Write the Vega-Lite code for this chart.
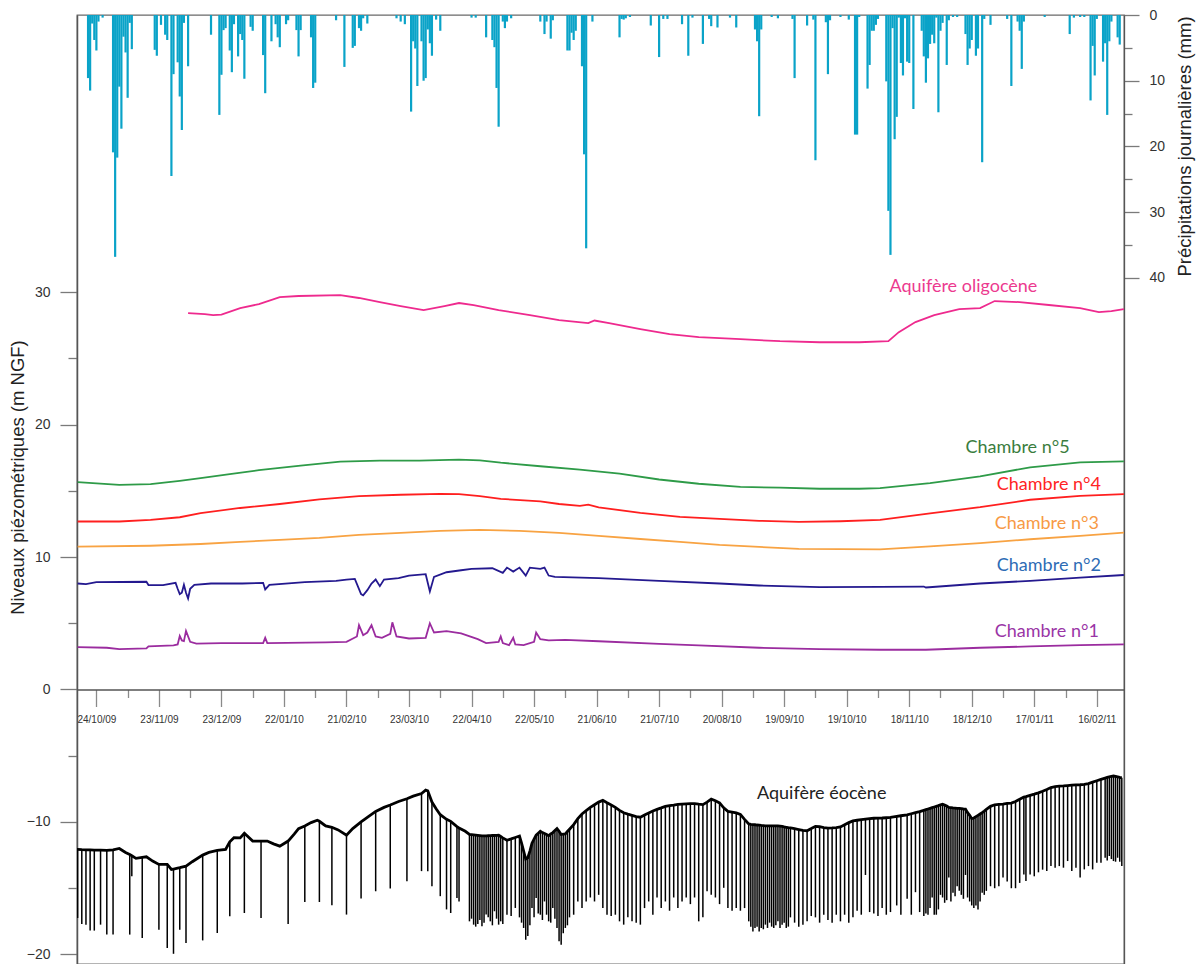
{
"$schema": "https://vega.github.io/schema/vega-lite/v6.json",
"width": 1047,
"height": 949,
"autosize": {"type": "none"},
"padding": {"left": 77, "top": 15, "right": 75, "bottom": 0},
"background": "white",
"config": {"view": {"stroke": "#6a6a6a", "strokeWidth": 1.3}, "axis": {"grid": false}},
"datasets": {
"pluie": [
{"date":"2009-10-20","mm":9.6},{"date":"2009-10-21","mm":11.5},{"date":"2009-10-22","mm":1.3},{"date":"2009-10-23","mm":3.8},{"date":"2009-10-24","mm":5.4},{"date":"2009-10-25","mm":1.0},{"date":"2009-10-27","mm":0.4},
{"date":"2009-11-01","mm":20.9},{"date":"2009-11-02","mm":36.8},{"date":"2009-11-03","mm":21.7},{"date":"2009-11-04","mm":10.9},{"date":"2009-11-05","mm":17.3},{"date":"2009-11-06","mm":3.3},{"date":"2009-11-07","mm":5.7},{"date":"2009-11-08","mm":12.6},{"date":"2009-11-09","mm":1.2},{"date":"2009-11-10","mm":5.2},
{"date":"2009-11-21","mm":5.3},{"date":"2009-11-22","mm":6.2},{"date":"2009-11-24","mm":1.5},{"date":"2009-11-26","mm":3.0},{"date":"2009-11-27","mm":3.8},{"date":"2009-11-29","mm":24.5},{"date":"2009-11-30","mm":9.0},
{"date":"2009-12-02","mm":7.2},{"date":"2009-12-03","mm":12.4},{"date":"2009-12-04","mm":17.5},{"date":"2009-12-05","mm":1.2},{"date":"2009-12-07","mm":7.8},{"date":"2009-12-18","mm":3.0},{"date":"2009-12-22","mm":15.2},{"date":"2009-12-23","mm":9.1},{"date":"2009-12-24","mm":2.3},{"date":"2009-12-25","mm":2.0},{"date":"2009-12-27","mm":5.4},{"date":"2009-12-28","mm":8.7},{"date":"2009-12-29","mm":1.4},{"date":"2009-12-31","mm":6.3},
{"date":"2010-01-01","mm":2.9},{"date":"2010-01-02","mm":3.8},{"date":"2010-01-03","mm":9.7},{"date":"2010-01-06","mm":1.8},{"date":"2010-01-07","mm":2.4},{"date":"2010-01-12","mm":6.1},{"date":"2010-01-13","mm":11.9},{"date":"2010-01-16","mm":4.0},{"date":"2010-01-18","mm":1.4},{"date":"2010-01-19","mm":3.4},{"date":"2010-01-20","mm":4.9},{"date":"2010-01-23","mm":1.4},{"date":"2010-01-24","mm":0.8},{"date":"2010-01-28","mm":2.3},{"date":"2010-01-29","mm":6.3},{"date":"2010-01-30","mm":2.3},
{"date":"2010-02-04","mm":3.4},{"date":"2010-02-05","mm":11.1},{"date":"2010-02-06","mm":10.3},{"date":"2010-02-16","mm":0.8},{"date":"2010-02-20","mm":7.9},{"date":"2010-02-24","mm":5.0},{"date":"2010-02-25","mm":4.7},{"date":"2010-02-27","mm":2.0},{"date":"2010-02-28","mm":2.4},
{"date":"2010-03-01","mm":0.5},{"date":"2010-03-03","mm":1.3},{"date":"2010-03-17","mm":0.5},{"date":"2010-03-19","mm":1.0},{"date":"2010-03-21","mm":1.4},{"date":"2010-03-24","mm":14.7},{"date":"2010-03-25","mm":4.0},{"date":"2010-03-26","mm":5.1},{"date":"2010-03-27","mm":10.8},{"date":"2010-03-29","mm":4.0},{"date":"2010-03-30","mm":10.0},{"date":"2010-03-31","mm":9.6},
{"date":"2010-04-01","mm":2.2},{"date":"2010-04-02","mm":4.3},{"date":"2010-04-03","mm":6.2},{"date":"2010-04-05","mm":0.7},{"date":"2010-04-07","mm":2.4},{"date":"2010-04-22","mm":0.4},{"date":"2010-04-24","mm":0.4},{"date":"2010-04-29","mm":3.4},
{"date":"2010-05-02","mm":3.8},{"date":"2010-05-03","mm":4.9},{"date":"2010-05-04","mm":11.1},{"date":"2010-05-05","mm":17.0},{"date":"2010-05-07","mm":1.0},{"date":"2010-05-08","mm":2.0},{"date":"2010-05-09","mm":1.0},{"date":"2010-05-11","mm":0.5},{"date":"2010-05-25","mm":1.0},{"date":"2010-05-27","mm":2.9},{"date":"2010-05-28","mm":1.0},{"date":"2010-05-30","mm":3.6},{"date":"2010-05-31","mm":0.8},
{"date":"2010-06-07","mm":5.4},{"date":"2010-06-08","mm":5.4},{"date":"2010-06-09","mm":2.7},{"date":"2010-06-10","mm":3.8},{"date":"2010-06-11","mm":2.4},{"date":"2010-06-14","mm":7.8},{"date":"2010-06-15","mm":21.2},{"date":"2010-06-16","mm":35.5},{"date":"2010-06-19","mm":1.0},
{"date":"2010-07-02","mm":3.4},{"date":"2010-07-03","mm":0.6},{"date":"2010-07-04","mm":0.7},{"date":"2010-07-05","mm":0.5},{"date":"2010-07-07","mm":0.3},{"date":"2010-07-17","mm":1.6},{"date":"2010-07-21","mm":6.4},{"date":"2010-07-23","mm":0.6},{"date":"2010-07-25","mm":0.6},
{"date":"2010-08-01","mm":1.4},{"date":"2010-08-04","mm":6.2},{"date":"2010-08-06","mm":0.4},{"date":"2010-08-11","mm":4.4},{"date":"2010-08-14","mm":0.6},{"date":"2010-08-15","mm":1.7},{"date":"2010-08-18","mm":1.9},{"date":"2010-08-24","mm":0.4},{"date":"2010-08-27","mm":1.9},
{"date":"2010-09-05","mm":2.2},{"date":"2010-09-06","mm":4.0},{"date":"2010-09-07","mm":15.4},{"date":"2010-09-08","mm":2.2},{"date":"2010-09-13","mm":0.3},{"date":"2010-09-16","mm":0.5},{"date":"2010-09-23","mm":0.6},{"date":"2010-09-24","mm":9.6},{"date":"2010-09-30","mm":1.6},
{"date":"2010-10-03","mm":0.7},{"date":"2010-10-04","mm":22.1},{"date":"2010-10-09","mm":1.1},{"date":"2010-10-10","mm":9.0},{"date":"2010-10-11","mm":0.8},{"date":"2010-10-16","mm":0.3},{"date":"2010-10-20","mm":0.7},{"date":"2010-10-23","mm":18.2},{"date":"2010-10-24","mm":18.2},{"date":"2010-10-25","mm":0.3},{"date":"2010-10-29","mm":11.2},{"date":"2010-10-30","mm":7.6},{"date":"2010-10-31","mm":2.4},
{"date":"2010-11-01","mm":2.4},{"date":"2010-11-02","mm":1.5},{"date":"2010-11-03","mm":0.6},{"date":"2010-11-07","mm":10.1},{"date":"2010-11-08","mm":29.8},{"date":"2010-11-09","mm":36.5},{"date":"2010-11-10","mm":2.0},{"date":"2010-11-11","mm":18.9},{"date":"2010-11-12","mm":15.5},{"date":"2010-11-13","mm":0.4},{"date":"2010-11-14","mm":7.3},{"date":"2010-11-15","mm":9.2},{"date":"2010-11-16","mm":0.5},{"date":"2010-11-17","mm":7.1},{"date":"2010-11-18","mm":7.3},{"date":"2010-11-20","mm":14.3},{"date":"2010-11-24","mm":2.4},{"date":"2010-11-25","mm":6.3},{"date":"2010-11-26","mm":10.3},{"date":"2010-11-27","mm":6.6},{"date":"2010-11-28","mm":4.4},{"date":"2010-11-29","mm":3.0},{"date":"2010-11-30","mm":4.3},
{"date":"2010-12-01","mm":0.4},{"date":"2010-12-02","mm":14.8},{"date":"2010-12-03","mm":2.4},{"date":"2010-12-04","mm":1.2},{"date":"2010-12-06","mm":7.6},{"date":"2010-12-07","mm":0.8},{"date":"2010-12-09","mm":0.3},{"date":"2010-12-11","mm":0.3},{"date":"2010-12-15","mm":2.9},{"date":"2010-12-16","mm":7.6},{"date":"2010-12-17","mm":5.1},{"date":"2010-12-18","mm":3.8},{"date":"2010-12-20","mm":6.2},{"date":"2010-12-21","mm":5.1},{"date":"2010-12-23","mm":22.4},{"date":"2010-12-24","mm":0.6},{"date":"2010-12-27","mm":1.5},
{"date":"2011-01-04","mm":0.6},{"date":"2011-01-06","mm":10.8},{"date":"2011-01-09","mm":1.0},{"date":"2011-01-10","mm":2.4},{"date":"2011-01-11","mm":8.2},{"date":"2011-01-12","mm":1.0},{"date":"2011-01-22","mm":0.3},
{"date":"2011-02-03","mm":2.9},{"date":"2011-02-05","mm":0.4},{"date":"2011-02-08","mm":0.3},{"date":"2011-02-10","mm":0.3},{"date":"2011-02-13","mm":13.0},{"date":"2011-02-14","mm":4.7},{"date":"2011-02-15","mm":9.2},{"date":"2011-02-16","mm":0.6},{"date":"2011-02-19","mm":7.1},{"date":"2011-02-20","mm":4.3},{"date":"2011-02-21","mm":15.2},{"date":"2011-02-22","mm":4.0},{"date":"2011-02-23","mm":1.0},{"date":"2011-02-26","mm":3.4},{"date":"2011-02-27","mm":4.5}
],
"niveaux": [
{"serie":"Aquifère oligocène","date":"2009-12-07","niveau":28.41},{"serie":"Aquifère oligocène","date":"2009-12-15","niveau":28.33},{"serie":"Aquifère oligocène","date":"2009-12-19","niveau":28.25},{"serie":"Aquifère oligocène","date":"2009-12-23","niveau":28.3},{"serie":"Aquifère oligocène","date":"2010-01-01","niveau":28.79},{"serie":"Aquifère oligocène","date":"2010-01-10","niveau":29.09},{"serie":"Aquifère oligocène","date":"2010-01-20","niveau":29.62},{"serie":"Aquifère oligocène","date":"2010-01-29","niveau":29.7},{"serie":"Aquifère oligocène","date":"2010-02-18","niveau":29.77},{"serie":"Aquifère oligocène","date":"2010-02-27","niveau":29.55},{"serie":"Aquifère oligocène","date":"2010-03-09","niveau":29.24},{"serie":"Aquifère oligocène","date":"2010-03-19","niveau":28.94},{"serie":"Aquifère oligocène","date":"2010-03-30","niveau":28.64},{"serie":"Aquifère oligocène","date":"2010-04-09","niveau":28.94},{"serie":"Aquifère oligocène","date":"2010-04-16","niveau":29.17},{"serie":"Aquifère oligocène","date":"2010-04-23","niveau":29.02},{"serie":"Aquifère oligocène","date":"2010-05-05","niveau":28.64},{"serie":"Aquifère oligocène","date":"2010-05-20","niveau":28.26},{"serie":"Aquifère oligocène","date":"2010-06-03","niveau":27.88},{"serie":"Aquifère oligocène","date":"2010-06-17","niveau":27.65},{"serie":"Aquifère oligocène","date":"2010-06-20","niveau":27.85},{"serie":"Aquifère oligocène","date":"2010-06-27","niveau":27.65},{"serie":"Aquifère oligocène","date":"2010-07-12","niveau":27.2},{"serie":"Aquifère oligocène","date":"2010-07-26","niveau":26.82},{"serie":"Aquifère oligocène","date":"2010-08-09","niveau":26.59},{"serie":"Aquifère oligocène","date":"2010-08-29","niveau":26.44},{"serie":"Aquifère oligocène","date":"2010-09-17","niveau":26.29},{"serie":"Aquifère oligocène","date":"2010-10-06","niveau":26.21},{"serie":"Aquifère oligocène","date":"2010-10-25","niveau":26.21},{"serie":"Aquifère oligocène","date":"2010-11-08","niveau":26.29},{"serie":"Aquifère oligocène","date":"2010-11-13","niveau":26.97},{"serie":"Aquifère oligocène","date":"2010-11-21","niveau":27.73},{"serie":"Aquifère oligocène","date":"2010-11-30","niveau":28.26},{"serie":"Aquifère oligocène","date":"2010-12-12","niveau":28.71},{"serie":"Aquifère oligocène","date":"2010-12-22","niveau":28.79},{"serie":"Aquifère oligocène","date":"2010-12-29","niveau":29.32},{"serie":"Aquifère oligocène","date":"2011-01-10","niveau":29.24},{"serie":"Aquifère oligocène","date":"2011-01-24","niveau":29.02},{"serie":"Aquifère oligocène","date":"2011-02-08","niveau":28.79},{"serie":"Aquifère oligocène","date":"2011-02-17","niveau":28.48},{"serie":"Aquifère oligocène","date":"2011-02-23","niveau":28.56},{"serie":"Aquifère oligocène","date":"2011-03-01","niveau":28.71},
{"serie":"Chambre n°5","date":"2009-10-15","niveau":15.65},{"serie":"Chambre n°5","date":"2009-11-04","niveau":15.45},{"serie":"Chambre n°5","date":"2009-11-19","niveau":15.5},{"serie":"Chambre n°5","date":"2009-12-03","niveau":15.75},{"serie":"Chambre n°5","date":"2009-12-13","niveau":15.96},{"serie":"Chambre n°5","date":"2009-12-27","niveau":16.25},{"serie":"Chambre n°5","date":"2010-01-10","niveau":16.55},{"serie":"Chambre n°5","date":"2010-01-30","niveau":16.9},{"serie":"Chambre n°5","date":"2010-02-18","niveau":17.2},{"serie":"Chambre n°5","date":"2010-03-09","niveau":17.27},{"serie":"Chambre n°5","date":"2010-03-28","niveau":17.27},{"serie":"Chambre n°5","date":"2010-04-16","niveau":17.35},{"serie":"Chambre n°5","date":"2010-04-26","niveau":17.3},{"serie":"Chambre n°5","date":"2010-05-06","niveau":17.12},{"serie":"Chambre n°5","date":"2010-05-25","niveau":16.85},{"serie":"Chambre n°5","date":"2010-06-13","niveau":16.6},{"serie":"Chambre n°5","date":"2010-07-02","niveau":16.29},{"serie":"Chambre n°5","date":"2010-07-21","niveau":15.85},{"serie":"Chambre n°5","date":"2010-08-09","niveau":15.53},{"serie":"Chambre n°5","date":"2010-08-29","niveau":15.3},{"serie":"Chambre n°5","date":"2010-09-17","niveau":15.23},{"serie":"Chambre n°5","date":"2010-10-06","niveau":15.15},{"serie":"Chambre n°5","date":"2010-10-25","niveau":15.15},{"serie":"Chambre n°5","date":"2010-11-04","niveau":15.2},{"serie":"Chambre n°5","date":"2010-11-28","niveau":15.58},{"serie":"Chambre n°5","date":"2010-12-22","niveau":16.08},{"serie":"Chambre n°5","date":"2011-01-15","niveau":16.77},{"serie":"Chambre n°5","date":"2011-02-08","niveau":17.14},{"serie":"Chambre n°5","date":"2011-03-01","niveau":17.22},
{"serie":"Chambre n°4","date":"2009-10-15","niveau":12.68},{"serie":"Chambre n°4","date":"2009-11-04","niveau":12.68},{"serie":"Chambre n°4","date":"2009-11-19","niveau":12.8},{"serie":"Chambre n°4","date":"2009-12-03","niveau":13.0},{"serie":"Chambre n°4","date":"2009-12-13","niveau":13.31},{"serie":"Chambre n°4","date":"2010-01-01","niveau":13.7},{"serie":"Chambre n°4","date":"2010-01-20","niveau":14.0},{"serie":"Chambre n°4","date":"2010-02-08","niveau":14.35},{"serie":"Chambre n°4","date":"2010-02-27","niveau":14.6},{"serie":"Chambre n°4","date":"2010-03-19","niveau":14.7},{"serie":"Chambre n°4","date":"2010-04-07","niveau":14.77},{"serie":"Chambre n°4","date":"2010-04-16","niveau":14.75},{"serie":"Chambre n°4","date":"2010-04-26","niveau":14.6},{"serie":"Chambre n°4","date":"2010-05-06","niveau":14.39},{"serie":"Chambre n°4","date":"2010-05-25","niveau":14.2},{"serie":"Chambre n°4","date":"2010-06-03","niveau":14.0},{"serie":"Chambre n°4","date":"2010-06-13","niveau":13.86},{"serie":"Chambre n°4","date":"2010-06-17","niveau":13.95},{"serie":"Chambre n°4","date":"2010-06-22","niveau":13.75},{"serie":"Chambre n°4","date":"2010-07-12","niveau":13.33},{"serie":"Chambre n°4","date":"2010-07-31","niveau":13.03},{"serie":"Chambre n°4","date":"2010-08-19","niveau":12.88},{"serie":"Chambre n°4","date":"2010-09-07","niveau":12.73},{"serie":"Chambre n°4","date":"2010-09-26","niveau":12.65},{"serie":"Chambre n°4","date":"2010-10-16","niveau":12.7},{"serie":"Chambre n°4","date":"2010-11-04","niveau":12.8},{"serie":"Chambre n°4","date":"2010-11-28","niveau":13.3},{"serie":"Chambre n°4","date":"2010-12-22","niveau":13.76},{"serie":"Chambre n°4","date":"2011-01-15","niveau":14.32},{"serie":"Chambre n°4","date":"2011-02-08","niveau":14.62},{"serie":"Chambre n°4","date":"2011-03-01","niveau":14.75},
{"serie":"Chambre n°3","date":"2009-10-15","niveau":10.78},{"serie":"Chambre n°3","date":"2009-11-19","niveau":10.85},{"serie":"Chambre n°3","date":"2009-12-13","niveau":10.98},{"serie":"Chambre n°3","date":"2010-01-01","niveau":11.14},{"serie":"Chambre n°3","date":"2010-01-20","niveau":11.29},{"serie":"Chambre n°3","date":"2010-02-08","niveau":11.44},{"serie":"Chambre n°3","date":"2010-02-27","niveau":11.67},{"serie":"Chambre n°3","date":"2010-03-19","niveau":11.82},{"serie":"Chambre n°3","date":"2010-04-07","niveau":11.97},{"serie":"Chambre n°3","date":"2010-04-26","niveau":12.05},{"serie":"Chambre n°3","date":"2010-05-15","niveau":11.97},{"serie":"Chambre n°3","date":"2010-06-03","niveau":11.82},{"serie":"Chambre n°3","date":"2010-06-22","niveau":11.59},{"serie":"Chambre n°3","date":"2010-07-12","niveau":11.36},{"serie":"Chambre n°3","date":"2010-07-31","niveau":11.14},{"serie":"Chambre n°3","date":"2010-08-19","niveau":10.91},{"serie":"Chambre n°3","date":"2010-09-07","niveau":10.76},{"serie":"Chambre n°3","date":"2010-09-26","niveau":10.62},{"serie":"Chambre n°3","date":"2010-10-16","niveau":10.6},{"serie":"Chambre n°3","date":"2010-11-04","niveau":10.58},{"serie":"Chambre n°3","date":"2010-11-28","niveau":10.8},{"serie":"Chambre n°3","date":"2010-12-22","niveau":11.04},{"serie":"Chambre n°3","date":"2011-01-15","niveau":11.34},{"serie":"Chambre n°3","date":"2011-02-08","niveau":11.59},{"serie":"Chambre n°3","date":"2011-03-01","niveau":11.84},
{"serie":"Chambre n°2","date":"2009-10-15","niveau":8.0},{"serie":"Chambre n°2","date":"2009-10-19","niveau":7.95},{"serie":"Chambre n°2","date":"2009-10-24","niveau":8.1},{"serie":"Chambre n°2","date":"2009-11-17","niveau":8.13},{"serie":"Chambre n°2","date":"2009-11-18","niveau":7.88},{"serie":"Chambre n°2","date":"2009-11-25","niveau":7.88},{"serie":"Chambre n°2","date":"2009-12-01","niveau":8.05},{"serie":"Chambre n°2","date":"2009-12-02","niveau":7.6},{"serie":"Chambre n°2","date":"2009-12-03","niveau":7.2},{"serie":"Chambre n°2","date":"2009-12-04","niveau":7.3},{"serie":"Chambre n°2","date":"2009-12-05","niveau":7.9},{"serie":"Chambre n°2","date":"2009-12-06","niveau":7.3},{"serie":"Chambre n°2","date":"2009-12-07","niveau":6.87},{"serie":"Chambre n°2","date":"2009-12-08","niveau":7.6},{"serie":"Chambre n°2","date":"2009-12-10","niveau":7.9},{"serie":"Chambre n°2","date":"2009-12-18","niveau":8.0},{"serie":"Chambre n°2","date":"2010-01-02","niveau":8.0},{"serie":"Chambre n°2","date":"2010-01-12","niveau":8.05},{"serie":"Chambre n°2","date":"2010-01-13","niveau":7.55},{"serie":"Chambre n°2","date":"2010-01-15","niveau":7.9},{"serie":"Chambre n°2","date":"2010-02-01","niveau":8.1},{"serie":"Chambre n°2","date":"2010-02-16","niveau":8.2},{"serie":"Chambre n°2","date":"2010-02-21","niveau":8.3},{"serie":"Chambre n°2","date":"2010-02-25","niveau":8.35},{"serie":"Chambre n°2","date":"2010-02-28","niveau":7.2},{"serie":"Chambre n°2","date":"2010-03-01","niveau":7.1},{"serie":"Chambre n°2","date":"2010-03-03","niveau":7.5},{"serie":"Chambre n°2","date":"2010-03-05","niveau":8.0},{"serie":"Chambre n°2","date":"2010-03-07","niveau":8.3},{"serie":"Chambre n°2","date":"2010-03-09","niveau":7.8},{"serie":"Chambre n°2","date":"2010-03-11","niveau":8.3},{"serie":"Chambre n°2","date":"2010-03-18","niveau":8.4},{"serie":"Chambre n°2","date":"2010-03-23","niveau":8.6},{"serie":"Chambre n°2","date":"2010-03-31","niveau":8.7},{"serie":"Chambre n°2","date":"2010-04-02","niveau":7.4},{"serie":"Chambre n°2","date":"2010-04-04","niveau":8.5},{"serie":"Chambre n°2","date":"2010-04-10","niveau":8.85},{"serie":"Chambre n°2","date":"2010-04-17","niveau":9.0},{"serie":"Chambre n°2","date":"2010-04-22","niveau":9.1},{"serie":"Chambre n°2","date":"2010-05-02","niveau":9.15},{"serie":"Chambre n°2","date":"2010-05-07","niveau":8.8},{"serie":"Chambre n°2","date":"2010-05-09","niveau":9.2},{"serie":"Chambre n°2","date":"2010-05-12","niveau":8.9},{"serie":"Chambre n°2","date":"2010-05-15","niveau":9.2},{"serie":"Chambre n°2","date":"2010-05-18","niveau":8.6},{"serie":"Chambre n°2","date":"2010-05-20","niveau":9.2},{"serie":"Chambre n°2","date":"2010-05-25","niveau":9.1},{"serie":"Chambre n°2","date":"2010-05-27","niveau":9.2},{"serie":"Chambre n°2","date":"2010-05-29","niveau":8.6},{"serie":"Chambre n°2","date":"2010-06-01","niveau":8.5},{"serie":"Chambre n°2","date":"2010-06-22","niveau":8.4},{"serie":"Chambre n°2","date":"2010-07-21","niveau":8.2},{"serie":"Chambre n°2","date":"2010-08-19","niveau":8.0},{"serie":"Chambre n°2","date":"2010-09-07","niveau":7.85},{"serie":"Chambre n°2","date":"2010-10-06","niveau":7.72},{"serie":"Chambre n°2","date":"2010-11-04","niveau":7.75},{"serie":"Chambre n°2","date":"2010-11-25","niveau":7.77},{"serie":"Chambre n°2","date":"2010-11-26","niveau":7.7},{"serie":"Chambre n°2","date":"2010-12-22","niveau":8.0},{"serie":"Chambre n°2","date":"2011-01-15","niveau":8.2},{"serie":"Chambre n°2","date":"2011-02-08","niveau":8.45},{"serie":"Chambre n°2","date":"2011-03-01","niveau":8.64},
{"serie":"Chambre n°1","date":"2009-10-15","niveau":3.2},{"serie":"Chambre n°1","date":"2009-10-29","niveau":3.15},{"serie":"Chambre n°1","date":"2009-11-04","niveau":3.05},{"serie":"Chambre n°1","date":"2009-11-17","niveau":3.1},{"serie":"Chambre n°1","date":"2009-11-18","niveau":3.26},{"serie":"Chambre n°1","date":"2009-11-30","niveau":3.33},{"serie":"Chambre n°1","date":"2009-12-02","niveau":3.4},{"serie":"Chambre n°1","date":"2009-12-03","niveau":4.04},{"serie":"Chambre n°1","date":"2009-12-04","niveau":3.7},{"serie":"Chambre n°1","date":"2009-12-05","niveau":3.65},{"serie":"Chambre n°1","date":"2009-12-06","niveau":4.42},{"serie":"Chambre n°1","date":"2009-12-08","niveau":3.6},{"serie":"Chambre n°1","date":"2009-12-11","niveau":3.46},{"serie":"Chambre n°1","date":"2009-12-23","niveau":3.5},{"serie":"Chambre n°1","date":"2010-01-12","niveau":3.5},{"serie":"Chambre n°1","date":"2010-01-13","niveau":3.9},{"serie":"Chambre n°1","date":"2010-01-14","niveau":3.5},{"serie":"Chambre n°1","date":"2010-02-11","niveau":3.55},{"serie":"Chambre n°1","date":"2010-02-21","niveau":3.6},{"serie":"Chambre n°1","date":"2010-02-26","niveau":4.0},{"serie":"Chambre n°1","date":"2010-02-27","niveau":4.85},{"serie":"Chambre n°1","date":"2010-03-01","niveau":4.1},{"serie":"Chambre n°1","date":"2010-03-03","niveau":4.3},{"serie":"Chambre n°1","date":"2010-03-05","niveau":4.85},{"serie":"Chambre n°1","date":"2010-03-07","niveau":4.0},{"serie":"Chambre n°1","date":"2010-03-10","niveau":3.9},{"serie":"Chambre n°1","date":"2010-03-14","niveau":4.2},{"serie":"Chambre n°1","date":"2010-03-15","niveau":5.07},{"serie":"Chambre n°1","date":"2010-03-17","niveau":4.0},{"serie":"Chambre n°1","date":"2010-03-23","niveau":3.85},{"serie":"Chambre n°1","date":"2010-03-31","niveau":3.9},{"serie":"Chambre n°1","date":"2010-04-02","niveau":5.0},{"serie":"Chambre n°1","date":"2010-04-04","niveau":4.3},{"serie":"Chambre n°1","date":"2010-04-10","niveau":4.4},{"serie":"Chambre n°1","date":"2010-04-17","niveau":4.24},{"serie":"Chambre n°1","date":"2010-04-25","niveau":3.8},{"serie":"Chambre n°1","date":"2010-04-29","niveau":3.5},{"serie":"Chambre n°1","date":"2010-05-05","niveau":3.6},{"serie":"Chambre n°1","date":"2010-05-06","niveau":4.0},{"serie":"Chambre n°1","date":"2010-05-07","niveau":3.5},{"serie":"Chambre n°1","date":"2010-05-10","niveau":3.35},{"serie":"Chambre n°1","date":"2010-05-12","niveau":3.9},{"serie":"Chambre n°1","date":"2010-05-13","niveau":3.4},{"serie":"Chambre n°1","date":"2010-05-17","niveau":3.35},{"serie":"Chambre n°1","date":"2010-05-22","niveau":3.6},{"serie":"Chambre n°1","date":"2010-05-23","niveau":4.3},{"serie":"Chambre n°1","date":"2010-05-25","niveau":3.8},{"serie":"Chambre n°1","date":"2010-05-29","niveau":3.7},{"serie":"Chambre n°1","date":"2010-06-06","niveau":3.75},{"serie":"Chambre n°1","date":"2010-06-22","niveau":3.64},{"serie":"Chambre n°1","date":"2010-07-21","niveau":3.45},{"serie":"Chambre n°1","date":"2010-08-09","niveau":3.33},{"serie":"Chambre n°1","date":"2010-09-07","niveau":3.15},{"serie":"Chambre n°1","date":"2010-10-06","niveau":3.05},{"serie":"Chambre n°1","date":"2010-11-04","niveau":3.0},{"serie":"Chambre n°1","date":"2010-11-26","niveau":3.0},{"serie":"Chambre n°1","date":"2010-12-22","niveau":3.15},{"serie":"Chambre n°1","date":"2011-01-15","niveau":3.25},{"serie":"Chambre n°1","date":"2011-02-08","niveau":3.35},{"serie":"Chambre n°1","date":"2011-03-01","niveau":3.41}
],
"eocene": [
{"date":"2009-10-14","niveau":-12.07},{"date":"2009-10-15","niveau":-12.07,"bas":-17.25},{"date":"2009-10-17","niveau":-12.09,"bas":-17.7},{"date":"2009-10-19","niveau":-12.1,"bas":-17.75},{"date":"2009-10-21","niveau":-12.11,"bas":-18.2},{"date":"2009-10-23","niveau":-12.12,"bas":-18.2},{"date":"2009-10-26","niveau":-12.13,"bas":-17.75},{"date":"2009-10-29","niveau":-12.15,"bas":-18.5},{"date":"2009-11-01","niveau":-12.1,"bas":-18.5},{"date":"2009-11-04","niveau":-12.0},{"date":"2009-11-07","niveau":-12.3},{"date":"2009-11-09","niveau":-12.45,"bas":-18.5},{"date":"2009-11-10","niveau":-12.55,"bas":-14.1},{"date":"2009-11-12","niveau":-12.75},{"date":"2009-11-15","niveau":-12.68,"bas":-18.76},{"date":"2009-11-17","niveau":-12.63},{"date":"2009-11-20","niveau":-12.95},{"date":"2009-11-23","niveau":-13.2,"bas":-18.13},{"date":"2009-11-27","niveau":-13.2,"bas":-19.52},{"date":"2009-11-29","niveau":-13.58},{"date":"2009-11-30","niveau":-13.55,"bas":-19.95},{"date":"2009-12-03","niveau":-13.45,"bas":-18.13},{"date":"2009-12-06","niveau":-13.33,"bas":-19.14},{"date":"2009-12-09","niveau":-13.0},{"date":"2009-12-14","niveau":-12.5,"bas":-18.94},{"date":"2009-12-17","niveau":-12.3},{"date":"2009-12-21","niveau":-12.15,"bas":-18.38},{"date":"2009-12-25","niveau":-12.07},{"date":"2009-12-27","niveau":-11.5,"bas":-17.12},{"date":"2009-12-29","niveau":-11.19},
{"date":"2010-01-01","niveau":-11.2},{"date":"2010-01-03","niveau":-10.85,"bas":-16.87},{"date":"2010-01-07","niveau":-11.44},{"date":"2010-01-11","niveau":-11.44,"bas":-17.25},{"date":"2010-01-14","niveau":-11.44},{"date":"2010-01-17","niveau":-11.65},{"date":"2010-01-20","niveau":-11.82},{"date":"2010-01-24","niveau":-11.44,"bas":-17.7},{"date":"2010-01-27","niveau":-10.9},{"date":"2010-01-29","niveau":-10.5},{"date":"2010-02-01","niveau":-10.3,"bas":-16.04},{"date":"2010-02-04","niveau":-10.05},{"date":"2010-02-07","niveau":-9.87},{"date":"2010-02-08","niveau":-9.95,"bas":-16.04},{"date":"2010-02-11","niveau":-10.3},{"date":"2010-02-14","niveau":-10.4,"bas":-16.29},{"date":"2010-02-17","niveau":-10.6},{"date":"2010-02-21","niveau":-11.0,"bas":-16.99},{"date":"2010-02-24","niveau":-10.5},{"date":"2010-02-28","niveau":-10.0,"bas":-15.78},{"date":"2010-03-03","niveau":-9.65},{"date":"2010-03-07","niveau":-9.2,"bas":-15.23},{"date":"2010-03-11","niveau":-8.9},{"date":"2010-03-14","niveau":-8.72,"bas":-15.02},{"date":"2010-03-18","niveau":-8.45},{"date":"2010-03-22","niveau":-8.25,"bas":-14.47},{"date":"2010-03-25","niveau":-8.05},{"date":"2010-03-29","niveau":-7.85,"bas":-13.71},{"date":"2010-03-31","niveau":-7.6},{"date":"2010-04-01","niveau":-7.65,"bas":-13.71},{"date":"2010-04-03","niveau":-8.5,"bas":-14.85},{"date":"2010-04-05","niveau":-9.0},{"date":"2010-04-07","niveau":-9.45,"bas":-15.6},{"date":"2010-04-10","niveau":-9.8,"bas":-16.6},{"date":"2010-04-12","niveau":-9.95,"bas":-16.87},{"date":"2010-04-15","niveau":-10.35,"bas":-15.73},{"date":"2010-04-16","niveau":-10.45,"bas":-16.0},{"date":"2010-04-19","niveau":-10.7},
{"date":"2010-04-21","niveau":-10.93,"bas":-17.5},{"date":"2010-04-22","niveau":-10.95,"bas":-17.3},{"date":"2010-04-23","niveau":-10.97,"bas":-17.75},{"date":"2010-04-24","niveau":-10.99,"bas":-17.9},{"date":"2010-04-25","niveau":-11.01,"bas":-17.7},{"date":"2010-04-26","niveau":-11.03,"bas":-17.4},{"date":"2010-04-27","niveau":-11.05,"bas":-17.88},{"date":"2010-04-28","niveau":-11.05,"bas":-17.6},{"date":"2010-04-29","niveau":-11.05,"bas":-16.99},{"date":"2010-04-30","niveau":-11.04,"bas":-17.2},{"date":"2010-05-01","niveau":-11.03,"bas":-17.5},{"date":"2010-05-02","niveau":-11.02,"bas":-17.8},{"date":"2010-05-03","niveau":-11.02,"bas":-16.74},{"date":"2010-05-04","niveau":-11.01,"bas":-17.3},{"date":"2010-05-05","niveau":-11.0,"bas":-17.75},{"date":"2010-05-06","niveau":-11.1,"bas":-17.5},{"date":"2010-05-07","niveau":-11.2,"bas":-17.7},{"date":"2010-05-09","niveau":-11.38,"bas":-17.0},{"date":"2010-05-11","niveau":-11.28,"bas":-17.1},{"date":"2010-05-13","niveau":-11.17,"bas":-16.49},{"date":"2010-05-15","niveau":-11.06,"bas":-17.2},{"date":"2010-05-16","niveau":-11.6,"bas":-17.6},{"date":"2010-05-17","niveau":-12.2,"bas":-18.0},{"date":"2010-05-18","niveau":-12.8,"bas":-18.89},{"date":"2010-05-19","niveau":-12.7,"bas":-18.6},{"date":"2010-05-20","niveau":-12.2,"bas":-17.8},{"date":"2010-05-21","niveau":-11.6,"bas":-16.5},{"date":"2010-05-22","niveau":-11.3,"bas":-17.2},{"date":"2010-05-23","niveau":-11.0,"bas":-15.73},{"date":"2010-05-24","niveau":-10.85,"bas":-16.9},{"date":"2010-05-25","niveau":-10.7,"bas":-17.0},{"date":"2010-05-26","niveau":-10.8,"bas":-17.4},{"date":"2010-05-27","niveau":-10.87,"bas":-16.0},{"date":"2010-05-28","niveau":-10.95,"bas":-17.0},{"date":"2010-05-29","niveau":-11.04,"bas":-17.5},{"date":"2010-05-30","niveau":-10.9,"bas":-17.6},{"date":"2010-05-31","niveau":-10.8,"bas":-16.5},{"date":"2010-06-01","niveau":-10.65,"bas":-17.3},{"date":"2010-06-02","niveau":-10.5,"bas":-18.0},{"date":"2010-06-03","niveau":-10.7,"bas":-19.0},{"date":"2010-06-04","niveau":-10.95,"bas":-19.27},{"date":"2010-06-05","niveau":-10.92,"bas":-18.4},{"date":"2010-06-06","niveau":-10.9,"bas":-18.0},{"date":"2010-06-07","niveau":-10.72,"bas":-17.8},{"date":"2010-06-08","niveau":-10.55,"bas":-17.2},{"date":"2010-06-10","niveau":-10.2,"bas":-17.0},{"date":"2010-06-12","niveau":-9.75,"bas":-16.0},{"date":"2010-06-14","niveau":-9.4,"bas":-16.5},{"date":"2010-06-16","niveau":-9.15,"bas":-16.0},{"date":"2010-06-18","niveau":-8.9,"bas":-15.7},{"date":"2010-06-20","niveau":-8.7,"bas":-16.0},{"date":"2010-06-22","niveau":-8.5,"bas":-15.5},{"date":"2010-06-24","niveau":-8.37,"bas":-16.5},{"date":"2010-06-26","niveau":-8.55,"bas":-17.0},{"date":"2010-06-28","niveau":-8.72,"bas":-17.1},{"date":"2010-06-30","niveau":-8.9,"bas":-17.0},
{"date":"2010-07-02","niveau":-9.13,"bas":-17.5},{"date":"2010-07-04","niveau":-9.31,"bas":-17.75},{"date":"2010-07-06","niveau":-9.41,"bas":-17.2},{"date":"2010-07-08","niveau":-9.5,"bas":-17.5},{"date":"2010-07-10","niveau":-9.6,"bas":-17.6},{"date":"2010-07-12","niveau":-9.64,"bas":-17.75},{"date":"2010-07-14","niveau":-9.48,"bas":-16.5},{"date":"2010-07-16","niveau":-9.32,"bas":-16.0},{"date":"2010-07-18","niveau":-9.17,"bas":-17.0},{"date":"2010-07-20","niveau":-9.05,"bas":-15.7},{"date":"2010-07-22","niveau":-8.94,"bas":-16.5},{"date":"2010-07-24","niveau":-8.82,"bas":-16.0},{"date":"2010-07-26","niveau":-8.76,"bas":-16.7},{"date":"2010-07-28","niveau":-8.72,"bas":-15.7},{"date":"2010-07-30","niveau":-8.67,"bas":-16.5},{"date":"2010-08-01","niveau":-8.65,"bas":-16.0},{"date":"2010-08-03","niveau":-8.63,"bas":-15.7},{"date":"2010-08-05","niveau":-8.61,"bas":-16.2},{"date":"2010-08-07","niveau":-8.62,"bas":-15.7},{"date":"2010-08-09","niveau":-8.66,"bas":-17.5},{"date":"2010-08-11","niveau":-8.69,"bas":-17.2},{"date":"2010-08-13","niveau":-8.5,"bas":-15.23},{"date":"2010-08-15","niveau":-8.28,"bas":-15.5},{"date":"2010-08-17","niveau":-8.4,"bas":-15.7},{"date":"2010-08-19","niveau":-8.56,"bas":-16.2},{"date":"2010-08-21","niveau":-8.93,"bas":-14.97},{"date":"2010-08-23","niveau":-9.2,"bas":-16.5},{"date":"2010-08-25","niveau":-9.26,"bas":-16.7},{"date":"2010-08-27","niveau":-9.32,"bas":-16.5},{"date":"2010-08-29","niveau":-9.43,"bas":-16.7},{"date":"2010-08-31","niveau":-9.8,"bas":-16.5},
{"date":"2010-09-02","niveau":-10.15,"bas":-17.5},{"date":"2010-09-03","niveau":-10.18,"bas":-17.9},{"date":"2010-09-04","niveau":-10.2,"bas":-18.26},{"date":"2010-09-05","niveau":-10.21,"bas":-18.0},{"date":"2010-09-06","niveau":-10.23,"bas":-17.9},{"date":"2010-09-07","niveau":-10.24,"bas":-18.26},{"date":"2010-09-08","niveau":-10.26,"bas":-18.0},{"date":"2010-09-09","niveau":-10.27,"bas":-18.1},{"date":"2010-09-10","niveau":-10.29,"bas":-17.75},{"date":"2010-09-11","niveau":-10.3,"bas":-18.0},{"date":"2010-09-12","niveau":-10.3,"bas":-17.6},{"date":"2010-09-13","niveau":-10.3,"bas":-17.9},{"date":"2010-09-14","niveau":-10.3,"bas":-18.0},{"date":"2010-09-15","niveau":-10.3,"bas":-17.8},{"date":"2010-09-16","niveau":-10.3,"bas":-17.5},{"date":"2010-09-17","niveau":-10.31,"bas":-18.0},{"date":"2010-09-18","niveau":-10.33,"bas":-17.75},{"date":"2010-09-19","niveau":-10.37,"bas":-17.6},{"date":"2010-09-20","niveau":-10.4,"bas":-18.0},{"date":"2010-09-21","niveau":-10.43,"bas":-17.9},{"date":"2010-09-22","niveau":-10.45,"bas":-17.2},{"date":"2010-09-24","niveau":-10.51,"bas":-17.6},{"date":"2010-09-26","niveau":-10.57,"bas":-17.9},{"date":"2010-09-28","niveau":-10.63,"bas":-17.75},{"date":"2010-09-30","niveau":-10.66,"bas":-17.5},{"date":"2010-10-02","niveau":-10.5,"bas":-17.1},{"date":"2010-10-04","niveau":-10.33,"bas":-17.2},{"date":"2010-10-06","niveau":-10.36,"bas":-17.6},{"date":"2010-10-08","niveau":-10.43,"bas":-17.0},{"date":"2010-10-10","niveau":-10.47,"bas":-17.4},{"date":"2010-10-12","niveau":-10.45,"bas":-17.6},{"date":"2010-10-14","niveau":-10.42,"bas":-17.0},{"date":"2010-10-16","niveau":-10.37,"bas":-17.5},{"date":"2010-10-18","niveau":-10.21,"bas":-17.0},{"date":"2010-10-20","niveau":-10.05,"bas":-17.6},{"date":"2010-10-22","niveau":-9.92,"bas":-17.2},{"date":"2010-10-24","niveau":-9.87,"bas":-16.7},{"date":"2010-10-26","niveau":-9.83,"bas":-17.0},{"date":"2010-10-28","niveau":-9.79,"bas":-14.0},{"date":"2010-10-30","niveau":-9.75,"bas":-16.8},
{"date":"2010-11-01","niveau":-9.72,"bas":-16.9},{"date":"2010-11-03","niveau":-9.71,"bas":-17.1},{"date":"2010-11-05","niveau":-9.7,"bas":-16.5},{"date":"2010-11-07","niveau":-9.68,"bas":-17.0},{"date":"2010-11-09","niveau":-9.66,"bas":-16.8},{"date":"2010-11-12","niveau":-9.58,"bas":-16.3},{"date":"2010-11-14","niveau":-9.53,"bas":-17.0},{"date":"2010-11-17","niveau":-9.46,"bas":-15.8},{"date":"2010-11-19","niveau":-9.38,"bas":-17.0},{"date":"2010-11-21","niveau":-9.3,"bas":-15.3},{"date":"2010-11-23","niveau":-9.22,"bas":-16.8},{"date":"2010-11-25","niveau":-9.12,"bas":-17.1},{"date":"2010-11-26","niveau":-9.07,"bas":-16.9},{"date":"2010-11-27","niveau":-9.02,"bas":-17.0},{"date":"2010-11-28","niveau":-8.97,"bas":-16.5},{"date":"2010-11-29","niveau":-8.92,"bas":-15.7},{"date":"2010-11-30","niveau":-8.87,"bas":-17.0},{"date":"2010-12-01","niveau":-8.82,"bas":-17.0},{"date":"2010-12-02","niveau":-8.77,"bas":-16.6},{"date":"2010-12-03","niveau":-8.71,"bas":-15.5},{"date":"2010-12-04","niveau":-8.66,"bas":-15.7},{"date":"2010-12-05","niveau":-8.73,"bas":-16.1},{"date":"2010-12-06","niveau":-8.8,"bas":-15.9},{"date":"2010-12-07","niveau":-8.9,"bas":-14.2},{"date":"2010-12-08","niveau":-8.92,"bas":-16.0},{"date":"2010-12-09","niveau":-8.94,"bas":-15.35},{"date":"2010-12-10","niveau":-8.95,"bas":-15.6},{"date":"2010-12-11","niveau":-8.97,"bas":-14.85},{"date":"2010-12-12","niveau":-8.98,"bas":-15.2},{"date":"2010-12-13","niveau":-9.0,"bas":-15.5},{"date":"2010-12-14","niveau":-9.02,"bas":-15.8},{"date":"2010-12-15","niveau":-9.03,"bas":-14.0},{"date":"2010-12-16","niveau":-9.3,"bas":-15.7},{"date":"2010-12-17","niveau":-9.5,"bas":-16.0},{"date":"2010-12-18","niveau":-9.75,"bas":-16.3},{"date":"2010-12-19","niveau":-9.7,"bas":-16.5},{"date":"2010-12-20","niveau":-9.6,"bas":-16.3},{"date":"2010-12-21","niveau":-9.5,"bas":-16.6},{"date":"2010-12-22","niveau":-9.4,"bas":-16.0},{"date":"2010-12-23","niveau":-9.3,"bas":-15.35},{"date":"2010-12-24","niveau":-9.18,"bas":-15.5},{"date":"2010-12-25","niveau":-9.05,"bas":-15.2},{"date":"2010-12-27","niveau":-8.82,"bas":-14.85},{"date":"2010-12-29","niveau":-8.7,"bas":-15.0},{"date":"2010-12-31","niveau":-8.67,"bas":-14.85},
{"date":"2011-01-02","niveau":-8.65,"bas":-14.2},{"date":"2011-01-04","niveau":-8.6,"bas":-14.5},{"date":"2011-01-06","niveau":-8.57,"bas":-15.0},{"date":"2011-01-08","niveau":-8.45,"bas":-15.0},{"date":"2011-01-10","niveau":-8.28,"bas":-14.6},{"date":"2011-01-12","niveau":-8.12,"bas":-13.96},{"date":"2011-01-13","niveau":-8.08,"bas":-14.45},{"date":"2011-01-15","niveau":-7.99,"bas":-13.96},{"date":"2011-01-17","niveau":-7.9,"bas":-14.1},{"date":"2011-01-19","niveau":-7.8,"bas":-13.8},{"date":"2011-01-21","niveau":-7.68,"bas":-13.6},{"date":"2011-01-23","niveau":-7.55,"bas":-13.7},{"date":"2011-01-25","niveau":-7.4,"bas":-13.33},{"date":"2011-01-27","niveau":-7.33,"bas":-13.45},{"date":"2011-01-29","niveau":-7.3,"bas":-13.33},{"date":"2011-01-31","niveau":-7.28,"bas":-13.45},{"date":"2011-02-02","niveau":-7.25,"bas":-12.95},{"date":"2011-02-04","niveau":-7.22,"bas":-13.7},{"date":"2011-02-06","niveau":-7.2,"bas":-13.45},{"date":"2011-02-08","niveau":-7.19,"bas":-14.2},{"date":"2011-02-10","niveau":-7.16,"bas":-13.58},{"date":"2011-02-12","niveau":-7.1,"bas":-13.33},{"date":"2011-02-14","niveau":-6.99,"bas":-13.58},{"date":"2011-02-16","niveau":-6.89,"bas":-13.08},{"date":"2011-02-18","niveau":-6.79,"bas":-13.08},{"date":"2011-02-20","niveau":-6.69,"bas":-12.7},{"date":"2011-02-21","niveau":-6.64,"bas":-12.9},{"date":"2011-02-22","niveau":-6.59,"bas":-12.57},{"date":"2011-02-23","niveau":-6.55,"bas":-12.8},{"date":"2011-02-24","niveau":-6.53,"bas":-12.95},{"date":"2011-02-25","niveau":-6.56,"bas":-13.0},{"date":"2011-02-26","niveau":-6.6,"bas":-12.7},{"date":"2011-02-27","niveau":-6.64,"bas":-13.0},{"date":"2011-02-28","niveau":-6.67,"bas":-13.33}
],
"etiquettes": [
{"date":"2010-12-14","niveau":30.02,"texte":"Aquifère oligocène"},
{"date":"2011-01-09","niveau":17.83,"texte":"Chambre n°5"},
{"date":"2011-01-24","niveau":15.06,"texte":"Chambre n°4"},
{"date":"2011-01-23","niveau":12.14,"texte":"Chambre n°3"},
{"date":"2011-01-24","niveau":8.97,"texte":"Chambre n°2"},
{"date":"2011-01-23","niveau":3.98,"texte":"Chambre n°1"},
{"date":"2010-10-07","niveau":-8.29,"texte":"Aquifère éocène"}
]
},
"encoding": {
"x": {
"field": "date", "type": "temporal", "title": null,
"scale": {"type": "utc", "domain": [1255538880000, 1298941920000], "nice": false},
"axis": {
"orient": "bottom", "offset": -274.5,
"values": [1256342400000,1257638400000,1258934400000,1260230400000,1261526400000,1262822400000,1264118400000,1265414400000,1266710400000,1268006400000,1269302400000,1270598400000,1271894400000,1273190400000,1274486400000,1275782400000,1277078400000,1278374400000,1279670400000,1280966400000,1282262400000,1283558400000,1284854400000,1286150400000,1287446400000,1288742400000,1290038400000,1291334400000,1292630400000,1293926400000,1295222400000,1296518400000,1297814400000],
"labelExpr": "round((datum.value - 1256342400000) / 1296000000) % 2 === 0 ? utcFormat(datum.value, '%d/%m/%y') : ''",
"tickSize": {"condition": {"test": "round((datum.value - 1256342400000) / 1296000000) % 2 === 0", "value": 17}, "value": 8},
"labelPadding": 8, "labelOverlap": false, "labelFlush": false,
"labelFont": "Liberation Sans", "labelFontSize": 10, "labelColor": "#333333",
"tickColor": "#8a8a8a", "tickWidth": 1.3, "domainColor": "#555555", "domainWidth": 1.3
}
}
},
"layer": [
{
"data": {"name": "pluie"},
"mark": {"type": "rule", "color": "#0AA3C8", "strokeWidth": 2.2},
"encoding": {
"y": {"field": "mm", "type": "quantitative",
"scale": {"domain": [0, 144.4], "reverse": true, "nice": false, "zero": false},
"axis": {"orient": "right", "values": [0,5,10,15,20,25,30,35,40],
"labelExpr": "datum.value % 10 === 0 ? datum.label : ''",
"tickSize": {"condition": {"test": "datum.value % 10 === 0", "value": 15}, "value": 8},
"labelPadding": 10, "labelFont": "Liberation Sans", "labelFontSize": 14, "labelColor": "#333333",
"tickColor": "#7a7a7a", "tickWidth": 1.3, "domainColor": "#555555", "domainWidth": 1.3,
"title": "Précipitations journalières (mm)", "titleFont": "Liberation Sans", "titleFontSize": 18.5, "titleFontWeight": "normal", "titleColor": "#222222",
"titleAngle": 270, "titleX": 60, "titleY": 131, "titleAlign": "center", "titleBaseline": "middle"}},
"y2": {"datum": 0}
}
},
{
"layer": [
{
"data": {"name": "niveaux"},
"mark": {"type": "line", "strokeWidth": 1.8, "clip": true},
"encoding": {
"y": {"field": "niveau", "type": "quantitative", "title": "Niveaux piézométriques (m NGF)",
"scale": {"domain": [-20.72, 50.91], "nice": false, "zero": false},
"axis": {"orient": "left", "values": [-20,-15,-10,-5,0,5,10,15,20,25,30],
"labelExpr": "datum.value % 10 === 0 ? datum.label : ''",
"tickSize": 17,
"tickDash": {"condition": {"test": "datum.value % 10 !== 0", "value": [9, 40]}, "value": [17, 0]},
"labelPadding": 10, "labelFont": "Liberation Sans", "labelFontSize": 14, "labelColor": "#333333",
"tickColor": "#7a7a7a", "tickWidth": 1.3, "domainColor": "#555555", "domainWidth": 1.5,
"titleFont": "Liberation Sans", "titleFontSize": 18.5, "titleFontWeight": "normal", "titleColor": "#222222",
"titleAngle": 270, "titleX": -60, "titleY": 462, "titleAlign": "center", "titleBaseline": "middle"}},
"color": {"field": "serie", "type": "nominal", "legend": null,
"scale": {"domain": ["Aquifère oligocène","Chambre n°5","Chambre n°4","Chambre n°3","Chambre n°2","Chambre n°1"],
"range": ["#EE2A8E","#2E9B48","#FF1F1F","#F8A343","#24198F","#9B2C9F"]}},
"detail": {"field": "serie"}
}
},
{
"data": {"name": "eocene"},
"transform": [{"filter": "isValid(datum.bas)"}],
"mark": {"type": "rule", "color": "#000000", "strokeWidth": 1.5, "clip": true},
"encoding": {
"y": {"field": "niveau", "type": "quantitative", "title": "Niveaux piézométriques (m NGF)"},
"y2": {"field": "bas"}
}
},
{
"data": {"name": "eocene"},
"mark": {"type": "line", "color": "#000000", "strokeWidth": 2.8, "clip": true},
"encoding": {
"y": {"field": "niveau", "type": "quantitative", "title": "Niveaux piézométriques (m NGF)"}
}
},
{
"data": {"name": "etiquettes"},
"mark": {"type": "text", "font": "Lato", "fontSize": 18, "align": "center", "baseline": "alphabetic"},
"encoding": {
"y": {"field": "niveau", "type": "quantitative", "title": "Niveaux piézométriques (m NGF)"},
"text": {"field": "texte"},
"color": {"field": "texte", "type": "nominal", "legend": null,
"scale": {"domain": ["Aquifère oligocène","Chambre n°5","Chambre n°4","Chambre n°3","Chambre n°2","Chambre n°1","Aquifère éocène"],
"range": ["#EC3A8F","#3A7D3E","#FF2424","#F79A45","#2E6CB5","#9A35A6","#222222"]}}
}
}
],
"resolve": {"scale": {"color": "independent"}}
}
],
"resolve": {"scale": {"y": "independent"}}
}
